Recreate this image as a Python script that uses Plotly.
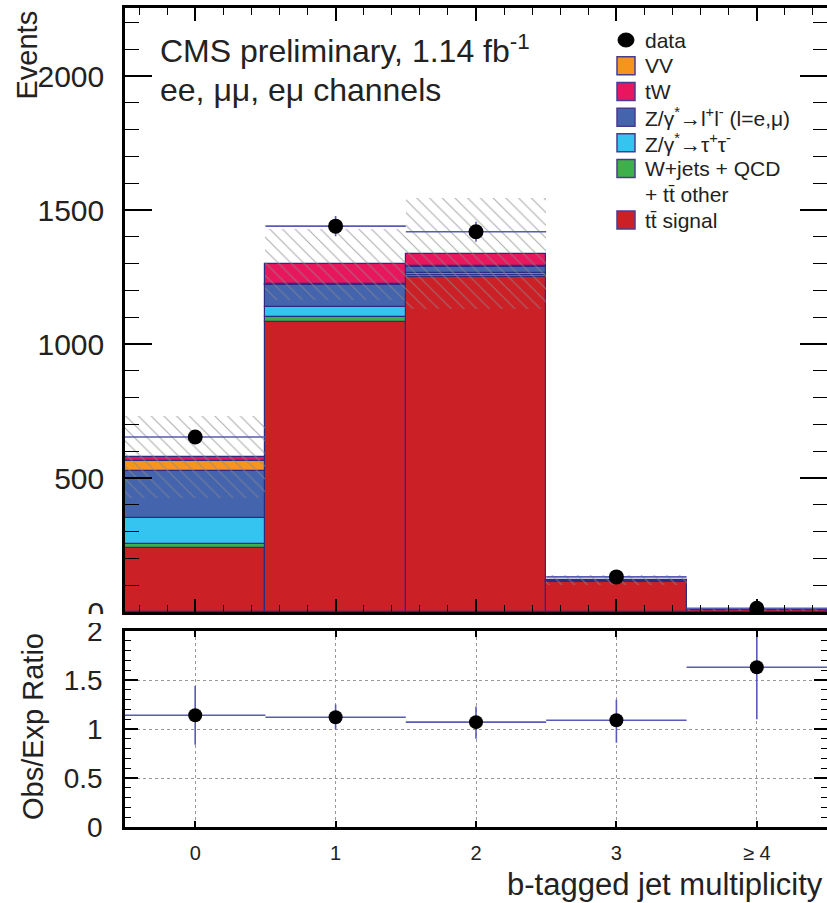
import numpy as np
import plotly.graph_objects as go

# ---------------- data ----------------
categories = ["0", "1", "2", "3", "≥ 4"]
bin_centers = [0, 1, 2, 3, 4]

tt_signal = [237, 1081, 1252, 112, 7.4]
wjets_qcd_ttother = [15, 21, 5, 1.0, 0.2]
z_tautau = [100, 38, 8, 1.0, 0.1]
z_ll = [176, 79, 22, 2.0, 0.2]
vv = [35, 5, 3, 0.5, 0.1]
tw = [15, 73, 47, 3.5, 0.6]

data_counts = [653, 1440, 1419, 131, 14]
mc_uncertainty = [153, 133, 208, 19, 3]

ratio = [1.14, 1.12, 1.07, 1.09, 1.63]
ratio_err_up = [0.30, 0.13, 0.16, 0.21, 0.45]
ratio_err_down = [0.30, 0.125, 0.17, 0.23, 0.53]

main_yticks = [0, 500, 1000, 1500, 2000]
ratio_yticks = [0, 0.5, 1, 1.5, 2]

# ---------------- style ----------------
W, H = 827, 903
L = 125
FONT = "Liberation Sans, Arial, Helvetica, sans-serif"
OUTLINE = "#2b2b80"
ERRCOL = "#5a5ab8"

stack = [
    ("tt signal", tt_signal, "#cc2027"),
    ("W+jets + QCD", wjets_qcd_ttother, "#3cb04a"),
    ("Z->tautau", z_tautau, "#35c4f0"),
    ("Z->ll", z_ll, "#4464ae"),
    ("VV", vv, "#f7941d"),
    ("tW", tw, "#e8175d"),
]


def xp(x):
    return (x - L) / (W - L)


def py(y):
    return 1 - y / H


fig = go.Figure()

base = np.zeros(len(bin_centers))
for name, vals, col in stack:
    v = np.array(vals, dtype=float)
    fig.add_trace(go.Bar(
        x=bin_centers, y=v, base=base.copy(), width=1.0,
        marker=dict(color=col, line=dict(color=OUTLINE, width=1.2), opacity=1),
        name=name, showlegend=False, xaxis="x", yaxis="y"))
    base = base + v

mc_total = base
unc = np.array(mc_uncertainty, dtype=float)
fig.add_trace(go.Bar(
    x=bin_centers, y=2 * unc, base=mc_total - unc, width=1.0,
    marker=dict(color="rgba(0,0,0,0)", line=dict(width=0),
                pattern=dict(shape="\\", fgcolor="#8a8a8a", fgopacity=0.7,
                             size=9, solidity=0.12)),
    showlegend=False, xaxis="x", yaxis="y"))

fig.add_trace(go.Scatter(
    x=bin_centers, y=data_counts, mode="markers",
    marker=dict(color="black", size=15),
    error_y=dict(type="data", array=np.sqrt(data_counts), color=ERRCOL,
                 thickness=1.6, width=0),
    error_x=dict(type="constant", value=0.5, color=ERRCOL, thickness=1.6, width=0),
    showlegend=False, xaxis="x", yaxis="y"))

fig.add_trace(go.Scatter(
    x=bin_centers, y=ratio, mode="markers",
    marker=dict(color="black", size=14),
    error_y=dict(type="data", symmetric=False, array=ratio_err_up,
                 arrayminus=ratio_err_down, color=ERRCOL, thickness=1.6, width=0),
    error_x=dict(type="constant", value=0.5, color=ERRCOL, thickness=1.6, width=0),
    showlegend=False, xaxis="x2", yaxis="y2"))

main_dom = [py(612), py(8)]
ratio_dom = [py(827), py(631)]

tickfont = dict(family=FONT, size=30, color="#222")

fig.update_layout(
    width=W, height=H, autosize=False,
    margin=dict(l=L, r=0, t=0, b=0, pad=0, autoexpand=False),
    paper_bgcolor="white", plot_bgcolor="white",
    barmode="overlay", bargap=0, font=dict(family=FONT, color="#222"),
    showlegend=False,
    xaxis=dict(domain=[0, 1], range=[-0.5, 4.5], anchor="y", automargin=False,
               showticklabels=False, tickvals=bin_centers,
               ticks="inside", ticklen=13, tickwidth=1.5, tickcolor="black",
               minor=dict(dtick=0.2, tick0=0, ticks="inside", ticklen=7,
                          tickwidth=1.2, tickcolor="black"),
               showline=True, linecolor="black", linewidth=2.5, mirror="ticks",
               showgrid=False, zeroline=False),
    yaxis=dict(domain=main_dom, range=[0, 2254], anchor="x", automargin=False,
               tickvals=main_yticks, tickformat="d",
               ticks="inside", ticklen=27, tickwidth=1.5, tickcolor="black",
               minor=dict(dtick=100, tick0=0, ticks="inside", ticklen=14,
                          tickwidth=1.2, tickcolor="black"),
               showline=True, linecolor="black", linewidth=2.5, mirror="ticks",
               tickfont=tickfont, ticklabelstandoff=12,
               showgrid=False, zeroline=False),
    xaxis2=dict(domain=[0, 1], range=[-0.5, 4.5], anchor="y2", automargin=False,
                tickvals=bin_centers, ticktext=categories,
                ticks="inside", ticklen=6, tickwidth=1.5, tickcolor="black",
                showline=True, linecolor="black", linewidth=2.5, mirror="ticks",
                tickfont=dict(family=FONT, size=20, color="#222"),
                ticklabelstandoff=6,
                showgrid=True, gridcolor="#999", griddash="dot", gridwidth=1,
                zeroline=False),
    yaxis2=dict(domain=ratio_dom, range=[0, 2], anchor="x2", automargin=False,
                tickvals=ratio_yticks,
                ticks="inside", ticklen=13, tickwidth=1.5, tickcolor="black",
                minor=dict(dtick=0.1, tick0=0, ticks="inside", ticklen=6,
                           tickwidth=1.2, tickcolor="black", showgrid=False),
                showline=True, linecolor="black", linewidth=2.5, mirror="ticks",
                tickfont=dict(family=FONT, size=28, color="#222"),
                ticklabelstandoff=14,
                showgrid=True, gridcolor="#999", griddash="dot", gridwidth=1.2,
                zeroline=False),
)

shapes = []
annotations = []

# clip of the main-pad "0" label at the pad boundary
shapes.append(dict(type="rect", xref="paper", yref="paper", layer="above",
                   x0=xp(0), x1=xp(121), y0=py(623), y1=py(614),
                   fillcolor="white", line=dict(width=0)))

# axis titles
annotations.append(dict(text="Events", x=xp(27),
                        xref="paper", y=py(9), yref="paper", textangle=-90,
                        xanchor="center", yanchor="top", showarrow=False,
                        font=dict(family=FONT, size=29, color="#222")))
annotations.append(dict(text="Obs/Exp Ratio", x=xp(33),
                        xref="paper", y=py(727), yref="paper", textangle=-90,
                        xanchor="center", yanchor="middle", showarrow=False,
                        font=dict(family=FONT, size=29, color="#222")))
annotations.append(dict(text="b-tagged jet multiplicity", x=xp(825), xref="paper",
                        y=py(884), yref="paper", xanchor="right",
                        yanchor="middle", showarrow=False,
                        font=dict(family=FONT, size=31, color="#222")))

# CMS labels
annotations.append(dict(text="CMS preliminary, 1.14 fb<sup>-1</sup>", x=xp(158),
                        xref="paper", y=py(49), yref="paper", xanchor="left",
                        yanchor="middle", showarrow=False,
                        font=dict(family=FONT, size=32, color="#222")))
annotations.append(dict(text="ee, μμ, eμ channels", x=xp(158),
                        xref="paper", y=py(90), yref="paper", xanchor="left",
                        yanchor="middle", showarrow=False,
                        font=dict(family=FONT, size=32, color="#222")))

# legend
legend_rows = [
    ("data", None),
    ("VV", "#f7941d"),
    ("tW", "#e8175d"),
    ("Z/γ<sup>*</sup>→l<sup>+</sup>l<sup>-</sup> (l=e,μ)", "#4464ae"),
    ("Z/γ<sup>*</sup>→τ<sup>+</sup>τ<sup>-</sup>", "#35c4f0"),
    ("W+jets + QCD", "#3cb04a"),
    ("+ t\u0074\u0304 other", "skip"),
    ("t\u0074\u0304 signal", "#cc2027"),
]
y0 = 40
dy = (220 - 40) / 7
for i, (label, col) in enumerate(legend_rows):
    yc = y0 + i * dy
    if col is None:
        shapes.append(dict(type="circle", xref="paper", yref="paper",
                           x0=xp(618), x1=xp(634), y0=py(yc + 7), y1=py(yc - 7),
                           fillcolor="black", line=dict(color="black", width=1)))
    elif col != "skip":
        shapes.append(dict(type="rect", xref="paper", yref="paper",
                           x0=xp(617), x1=xp(635), y0=py(yc + 9), y1=py(yc - 9),
                           fillcolor=col, line=dict(color="#4b3b8f", width=1.5)))
    annotations.append(dict(text=label, x=xp(643), xref="paper", y=py(yc),
                            yref="paper", xanchor="left", yanchor="middle",
                            showarrow=False,
                            font=dict(family=FONT, size=21, color="#222")))

fig.update_layout(shapes=shapes, annotations=annotations)

fig.write_html(
    "out.html",
    config={"displayModeBar": False},
    post_script="document.body.style.margin='0';document.body.style.overflow='hidden';",
)
